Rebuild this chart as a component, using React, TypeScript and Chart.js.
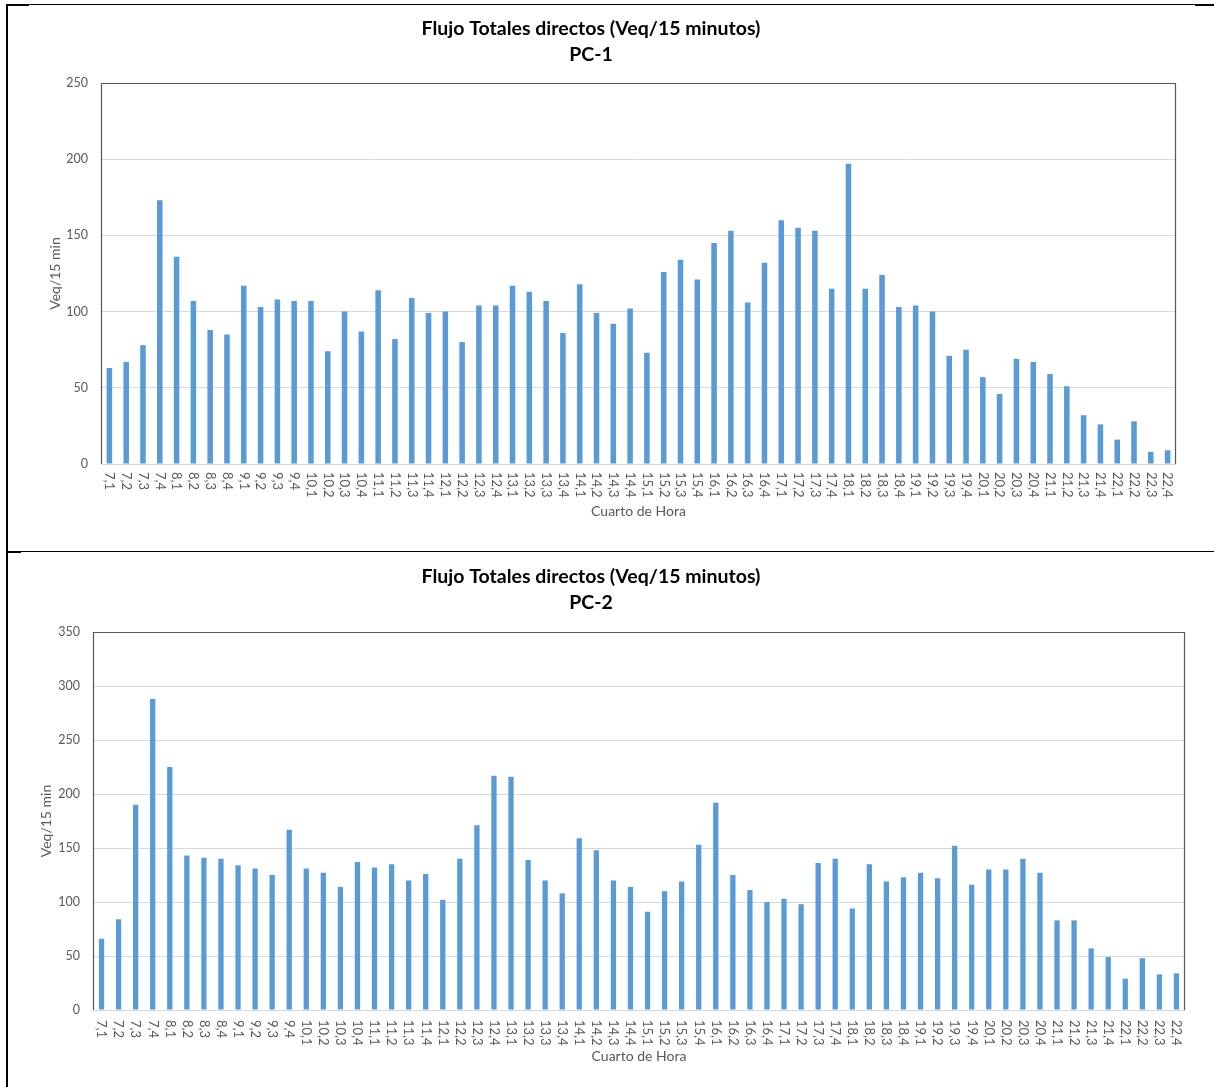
import React, { useEffect, useRef } from "react";
import { Chart, registerables } from "chart.js";

Chart.register(...registerables);

// ---------- data ----------
const categories: string[] = [
  "7,1", "7,2", "7,3", "7,4",
  "8,1", "8,2", "8,3", "8,4",
  "9,1", "9,2", "9,3", "9,4",
  "10,1", "10,2", "10,3", "10,4",
  "11,1", "11,2", "11,3", "11,4",
  "12,1", "12,2", "12,3", "12,4",
  "13,1", "13,2", "13,3", "13,4",
  "14,1", "14,2", "14,3", "14,4",
  "15,1", "15,2", "15,3", "15,4",
  "16,1", "16,2", "16,3", "16,4",
  "17,1", "17,2", "17,3", "17,4",
  "18,1", "18,2", "18,3", "18,4",
  "19,1", "19,2", "19,3", "19,4",
  "20,1", "20,2", "20,3", "20,4",
  "21,1", "21,2", "21,3", "21,4",
  "22,1", "22,2", "22,3", "22,4",
];

const pc1Values: number[] = [
  63, 67, 78, 173,
  136, 107, 88, 85,
  117, 103, 108, 107,
  107, 74, 100, 87,
  114, 82, 109, 99,
  100, 80, 104, 104,
  117, 113, 107, 86,
  118, 99, 92, 102,
  73, 126, 134, 121,
  145, 153, 106, 132,
  160, 155, 153, 115,
  197, 115, 124, 103,
  104, 100, 71, 75,
  57, 46, 69, 67,
  59, 51, 32, 26,
  16, 28, 8, 9,
];

const pc2Values: number[] = [
  66, 84, 190, 288,
  225, 143, 141, 140,
  134, 131, 125, 167,
  131, 127, 114, 137,
  132, 135, 120, 126,
  102, 140, 171, 217,
  216, 139, 120, 108,
  159, 148, 120, 114,
  91, 110, 119, 153,
  192, 125, 111, 100,
  103, 98, 136, 140,
  94, 135, 119, 123,
  127, 122, 152, 116,
  130, 130, 140, 127,
  83, 83, 57, 49,
  29, 48, 33, 34,
];

const chartTitle = "Flujo Totales directos (Veq/15 minutos)";
const pc1Label = "PC-1";
const pc2Label = "PC-2";
const yAxisTitle = "Veq/15 min";
const xAxisTitle = "Cuarto de Hora";
const pc1YMax = 250;
const pc2YMax = 350;
const yStep = 50;

// ---------- styles ----------
const FONT = "Lato, 'Open Sans', 'Liberation Sans', sans-serif";
const BAR_COLOR = "#5B9BD5";
const TEXT_GRAY = "#595959";
const GRID_GRAY = "#D9D9D9";

function makeFramePlugin() {
  return {
    id: "plotFrame",
    afterDatasetsDraw(chart: any) {
      const { ctx, chartArea } = chart;
      const { left, right, top, bottom } = chartArea;
      ctx.save();
      ctx.strokeStyle = TEXT_GRAY;
      ctx.lineWidth = 1.2;
      ctx.beginPath();
      ctx.moveTo(Math.round(left) + 0.5, bottom);
      ctx.lineTo(Math.round(left) + 0.5, Math.round(top) + 0.5);
      ctx.lineTo(Math.round(right) - 0.5, Math.round(top) + 0.5);
      ctx.lineTo(Math.round(right) - 0.5, bottom);
      ctx.stroke();
      ctx.restore();
    },
  };
}

function makeVerticalLabelsPlugin(offset: number) {
  return {
    id: "verticalLabels",
    afterDraw(chart: any) {
      const { ctx, chartArea } = chart;
      const xScale = chart.scales.x;
      const labels = chart.data.labels as string[];
      ctx.save();
      ctx.font = `13px ${FONT}`;
      ctx.fillStyle = TEXT_GRAY;
      ctx.textAlign = "left";
      ctx.textBaseline = "middle";
      labels.forEach((lab, i) => {
        const x = xScale.getPixelForTick(i);
        ctx.save();
        ctx.translate(x, chartArea.bottom + offset);
        ctx.rotate(Math.PI / 2);
        ctx.fillText(lab, 0, 0);
        ctx.restore();
      });
      ctx.restore();
    },
  };
}

type PcChartProps = {
  values: number[];
  label: string;
  yMax: number;
  left: number;
  top: number;
  width: number;
  height: number;
  yAxisWidth: number;
  titlePadBottom: number;
  xTitlePadTop: number;
  layoutPadBottom: number;
  labelOffset: number;
  barPct: number;
};

function PcChart(p: PcChartProps) {
  const ref = useRef<HTMLCanvasElement | null>(null);

  useEffect(() => {
    if (!ref.current) return;
    const chart = new Chart(ref.current, {
      type: "bar",
      data: {
        labels: categories,
        datasets: [
          {
            label: p.label,
            data: p.values,
            backgroundColor: BAR_COLOR,
            borderWidth: 0,
            barPercentage: p.barPct,
            categoryPercentage: 1,
          },
        ],
      },
      options: {
        responsive: false,
        animation: false,
        devicePixelRatio: 1,
        layout: { padding: { left: 0, right: 20, top: 0, bottom: p.layoutPadBottom } },
        plugins: {
          legend: { display: false },
          tooltip: { enabled: false },
          title: {
            display: true,
            text: [chartTitle, p.label],
            color: "#000000",
            font: { family: FONT, size: 19.5, weight: "bold", lineHeight: 26 / 19.5 },
            padding: { top: 8, bottom: p.titlePadBottom },
          },
        },
        scales: {
          x: {
            type: "category",
            grid: { display: false, drawTicks: false },
            border: { display: false },
            ticks: { display: false },
            title: {
              display: true,
              text: xAxisTitle,
              color: TEXT_GRAY,
              font: { family: FONT, size: 14, lineHeight: 1.2 },
              padding: { top: p.xTitlePadTop, bottom: 0 },
            },
          },
          y: {
            min: 0,
            max: p.yMax,
            grid: { color: GRID_GRAY, lineWidth: 1, drawTicks: false },
            border: { display: false },
            ticks: {
              stepSize: yStep,
              color: TEXT_GRAY,
              padding: 13,
              font: { family: FONT, size: 12.5 },
            },
            title: {
              display: true,
              text: yAxisTitle,
              color: TEXT_GRAY,
              font: { family: FONT, size: 14, lineHeight: 1.2 },
              padding: { top: 40.6, bottom: 0 },
            },
            afterFit: (scale: any) => {
              scale.width = p.yAxisWidth;
            },
          },
        },
      },
      plugins: [makeFramePlugin(), makeVerticalLabelsPlugin(p.labelOffset)],
    } as any);
    return () => chart.destroy();
  }, []);

  return (
    <canvas
      ref={ref}
      width={p.width}
      height={p.height}
      style={{
        position: "absolute",
        left: p.left,
        top: p.top,
        width: p.width,
        height: p.height,
      }}
    />
  );
}

export default function App() {
  const line = (style: React.CSSProperties) => (
    <div style={{ position: "absolute", background: "#000", zIndex: 2, ...style }} />
  );
  return (
    <div
      style={{
        position: "absolute",
        left: 0,
        top: 0,
        width: 1214,
        height: 1087,
        background: "#fff",
        overflow: "hidden",
      }}
    >
      <PcChart
        values={pc1Values}
        label={pc1Label}
        yMax={pc1YMax}
        left={6}
        top={8}
        width={1190}
        height={540}
        yAxisWidth={95}
        titlePadBottom={15}
        xTitlePadTop={38.6}
        layoutPadBottom={28.6}
        labelOffset={8}
        barPct={0.33}
      />
      <PcChart
        values={pc2Values}
        label={pc2Label}
        yMax={pc2YMax}
        left={-3}
        top={556}
        width={1208}
        height={531}
        yAxisWidth={96}
        titlePadBottom={16}
        xTitlePadTop={37.6}
        layoutPadBottom={22.6}
        labelOffset={10}
        barPct={0.31}
      />
      {/* table frame lines */}
      {line({ left: 6, top: 4, width: 1189, height: 1 })}
      {line({ left: 6, top: 4, width: 23, height: 2 })}
      {line({ left: 1195, top: 4, width: 19, height: 2 })}
      {line({ left: 6, top: 4, width: 2, height: 1083 })}
      {line({ left: 6, top: 551, width: 1208, height: 1 })}
      {line({ left: 6, top: 551, width: 15, height: 2 })}
    </div>
  );
}
